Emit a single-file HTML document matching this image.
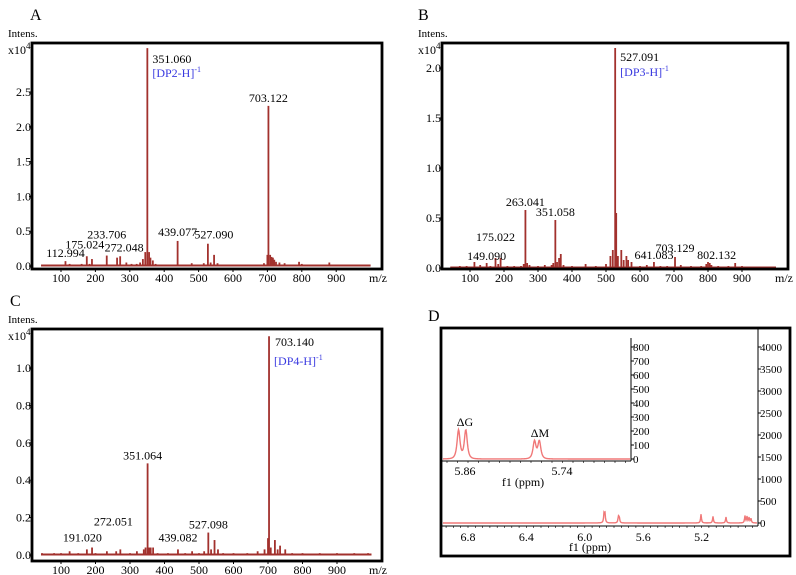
<!DOCTYPE html>
<html><head><meta charset="utf-8">
<style>
body{margin:0;background:#fff;}
svg{display:block;font-family:"Liberation Serif",serif;}
</style></head>
<body>
<svg id="fig" width="796" height="575" viewBox="0 0 796 575"></svg>
<script>
// ---------- Data ----------
const xTicksMZ = [100,200,300,400,500,600,700,800,900];
// Panel A
const aMz  = [45,60,80,100,113,125,140,150,160,175,183,190,200,215,233,245,263,272,290,305,320,330,338,345,351,356,360,367,375,390,410,439,460,480,500,515,527,535,545,555,570,600,640,670,690,700,703,708,712,716,720,725,735,750,770,792,800,820,850,880,900,940,960,990];
const aInt = [0.01,0.01,0.01,0.02,0.07,0.03,0.02,0.02,0.03,0.14,0.03,0.10,0.02,0.02,0.15,0.02,0.12,0.14,0.05,0.03,0.03,0.05,0.10,0.20,3.13,0.20,0.12,0.08,0.03,0.02,0.02,0.36,0.02,0.04,0.02,0.04,0.32,0.05,0.16,0.04,0.02,0.02,0.02,0.02,0.04,0.16,2.30,0.16,0.13,0.12,0.09,0.06,0.05,0.04,0.02,0.06,0.03,0.02,0.01,0.05,0.01,0.02,0.01,0.01];
const aYTicks = [0,0.5,1.0,1.5,2.0,2.5];
const aLabels = ["112.994","175.024","233.706","272.048","351.060","439.077","527.090","703.122"];
const aLabelMz = [113,175,233,272,351,439,527,703];
const aLabelInt = [0.07,0.14,0.15,0.14,3.13,0.36,0.32,2.30];
// Panel B
const bMz  = [45,70,90,113,130,149,160,175,183,190,210,230,250,258,263,268,275,300,320,340,345,351,356,362,367,375,400,440,470,500,513,520,527,530,535,545,552,560,565,575,600,620,641,660,680,703,720,750,780,795,800,805,810,830,860,880,900,940,990];
const bInt = [0.01,0.02,0.02,0.06,0.03,0.05,0.02,0.10,0.04,0.10,0.02,0.02,0.02,0.04,0.58,0.05,0.03,0.02,0.03,0.03,0.05,0.48,0.06,0.10,0.14,0.03,0.02,0.04,0.02,0.04,0.12,0.18,2.20,0.55,0.12,0.18,0.08,0.12,0.08,0.06,0.02,0.03,0.06,0.02,0.02,0.11,0.03,0.02,0.02,0.04,0.06,0.05,0.03,0.02,0.02,0.05,0.02,0.01,0.01];
const bYTicks = [0,0.5,1.0,1.5,2.0];
const bLabels = ["149.090","175.022","263.041","351.058","527.091","641.083","703.129","802.132"];
const bLabelMz = [149,175,263,351,527,641,703,802];
const bLabelInt = [0.05,0.10,0.58,0.48,2.20,0.06,0.11,0.06];
// Panel C
const cMz  = [45,80,100,125,150,175,190,200,233,260,272,300,320,340,345,351,356,360,367,380,410,439,460,480,500,515,527,535,545,555,570,600,640,670,690,700,703,708,720,728,735,750,770,800,850,900,950,990];
const cInt = [0.01,0.01,0.01,0.02,0.01,0.03,0.04,0.01,0.02,0.02,0.03,0.01,0.02,0.03,0.04,0.49,0.04,0.04,0.04,0.01,0.01,0.03,0.01,0.02,0.01,0.02,0.12,0.03,0.08,0.03,0.01,0.01,0.01,0.02,0.03,0.09,1.17,0.04,0.08,0.03,0.05,0.03,0.01,0.01,0.01,0.01,0.01,0.01];
const cYTicks = [0,0.2,0.4,0.6,0.8,1.0];
const cLabels = ["191.020","272.051","351.064","439.082","527.098","703.140"];
const cLabelMz = [191,272,351,439,527,703];
const cLabelInt = [0.04,0.03,0.49,0.03,0.12,1.17];
// Panel D (NMR)
const dPpm = [5.868,5.862,5.770,5.764,5.204,5.122,5.033,4.903,4.889,4.875,4.862];
const dHeight = [210,200,135,125,200,150,135,160,140,120,100];
const dYTicks = [0,500,1000,1500,2000,2500,3000,3500,4000];
const dXTicks = [6.8,6.4,6.0,5.6,5.2];
const insetPpm = [5.868,5.859,5.774,5.768];
const insetHeight = [205,205,125,125];
const insetYTicks = [0,100,200,300,400,500,600,700,800];
const insetXTicks = [5.86,5.74];

// ---------- Drawing ----------
const NS="http://www.w3.org/2000/svg";
const svg=document.getElementById('fig');
function el(tag,attrs,parent,text){const e=document.createElementNS(NS,tag);for(const k in attrs)e.setAttribute(k,attrs[k]);if(text!==undefined)e.textContent=text;(parent||svg).appendChild(e);return e;}
const RED="#a2312d";

function msPanel(o){
  const g=el('g',{});
  
  
  const sx=m=>o.x100+(m-100)*o.k;
  const sy=v=>o.y0-v*o.ky;
  let t=el('text',{x:o.letter[0],y:o.letter[1],'font-size':16},g,o.letterText);
  
  t=el('text',{x:o.fx-24,y:o.fy-6,'font-size':11},g,'Intens.');
  
  t=el('text',{x:o.fx-24,y:o.fy+11,'font-size':12},g,'x10');
  
  el('tspan',{'font-size':9,dy:-5},t,'4');
  let bl=el('line',{x1:sx(42),x2:sx(1000),y1:o.y0-0.5,y2:o.y0-0.5,stroke:RED,'stroke-width':2},g);
  
  for(let i=0;i<o.mz.length;i++){
    const p=el('line',{x1:sx(o.mz[i]),x2:sx(o.mz[i]),y1:o.y0,y2:sy(o.int[i]),stroke:RED,'stroke-width':1.8},g);
    
  }
  const fr=el('rect',{x:o.fx,y:o.fy,width:o.fw,height:o.fh,fill:'none',stroke:'#000','stroke-width':2.8},g);
  
  o.yt.forEach(v=>{
    const tk=el('line',{x1:o.fx-3,x2:o.fx,y1:sy(v),y2:sy(v),stroke:'#000'},g);
    
    const l=el('text',{x:o.fx-1,y:sy(v)+4,'font-size':12,'text-anchor':'end'},g,v.toFixed(1));
    
  });
  xTicksMZ.forEach(m=>{
    const tk=el('line',{x1:sx(m),x2:sx(m),y1:o.fy+o.fh,y2:o.fy+o.fh+3,stroke:'#000'},g);
    
    const l=el('text',{x:sx(m),y:o.fy+o.fh+13,'font-size':12,'text-anchor':'middle'},g,String(m));
    
  });
  t=el('text',{x:o.fx+o.fw-13,y:o.fy+o.fh+13,'font-size':12},g,'m/z');
  
  for(let i=0;i<o.labels.length;i++){
    const d=o.loff[i];
    const l=el('text',{x:sx(o.lmz[i])+d[0],y:sy(o.lint[i])+d[1],'font-size':12,'text-anchor':d[2]||'middle'},g,o.labels[i]);
    
  }
  const ion=el('text',{x:sx(o.ionMz)+5,y:o.ionY,'font-size':12,fill:'#3a3ae0'},g,o.ion);
  
  el('tspan',{'font-size':8,dy:-5},ion,'-1');
}

msPanel({name:'panel-a',letter:[30,20],letterText:'A',fx:32,fy:43,fw:350,fh:226,x100:61,k:0.344,y0:266,ky:69.6,yt:aYTicks,
 mz:aMz,int:aInt,labels:aLabels,lmz:aLabelMz,lint:aLabelInt,
 loff:[[0,-4],[-2,-8],[0,-17],[4,-5],[5,15,'start'],[0,-5],[6,-5],[0,-4]],ionMz:351,ionY:77,ion:'[DP2-H]'});
msPanel({name:'panel-b',letter:[418,20],letterText:'B',fx:442,fy:43,fw:346,fh:226,x100:470,k:0.34,y0:268,ky:100,yt:bYTicks,
 mz:bMz,int:bInt,labels:bLabels,lmz:bLabelMz,lint:bLabelInt,
 loff:[[0,-3],[0,-17],[0,-4],[0,-4],[5,13,'start'],[0,-3],[0,-5],[8,-3]],ionMz:527,ionY:76,ion:'[DP3-H]'});
msPanel({name:'panel-c',letter:[10,306],letterText:'C',fx:32,fy:329,fw:350,fh:232,x100:61,k:0.345,y0:555,ky:187,yt:cYTicks,
 mz:cMz,int:cInt,labels:cLabels,lmz:cLabelMz,lint:cLabelInt,
 loff:[[-10,-6],[-7,-24],[-5,-4],[0,-8],[0,-4],[6,10,'start']],ionMz:703,ionY:365,ion:'[DP4-H]'});

// Panel D
(function(){
  const g=el('g',{});
  
  const NR="#f07878";
  let t=el('text',{x:428,y:321,'font-size':16},g,'D');
  
  const sx=p=>468+(6.8-p)*146;
  const sy=v=>523-v*0.044;
  let d='';const w=0.0035;
  for(let x=443;x<=757;x+=0.5){
    const p=6.8-(x-468)/146;let v=0;
    for(let i=0;i<dPpm.length;i++){const u=(p-dPpm[i])/w;v+=dHeight[i]/(1+u*u);}
    d+=(d?'L':'M')+x.toFixed(1)+' '+sy(v).toFixed(2);
  }
  let pth=el('path',{d:d,fill:'none',stroke:NR,'stroke-width':1.4},g);
  
  let ax=el('line',{x1:441,x2:758,y1:526,y2:526,stroke:'#000'},g);
  
  for(let p=6.95;p>=4.82;p-=0.05){el('line',{x1:sx(p),x2:sx(p),y1:526,y2:528,stroke:'#000','stroke-width':0.6},g);}
  dXTicks.forEach(p=>{
    const l=el('text',{x:sx(p),y:541,'font-size':12,'text-anchor':'middle'},g,p.toFixed(1));
    
  });
  t=el('text',{x:590,y:551,'font-size':12,'text-anchor':'middle'},g,'f1 (ppm)');
  
  ax=el('line',{x1:758,x2:758,y1:328,y2:526,stroke:'#000'},g);
  
  dYTicks.forEach(v=>{
    el('line',{x1:758,x2:761,y1:sy(v),y2:sy(v),stroke:'#000'},g);
    const l=el('text',{x:760,y:sy(v)+4,'font-size':11},g,String(v));
    
  });
  const ix=p=>465+(5.86-p)*808;
  const iy=v=>459-v*0.14;
  d='';const w2=0.0028;
  for(let x=443;x<=630;x+=0.5){
    const p=5.86-(x-465)/808;let v=0;
    for(let i=0;i<insetPpm.length;i++){const u=(p-insetPpm[i])/w2;v+=insetHeight[i]/Math.pow(1+u*u,1.5);}
    d+=(d?'L':'M')+x.toFixed(1)+' '+iy(v).toFixed(2);
  }
  pth=el('path',{d:d,fill:'none',stroke:NR,'stroke-width':1.4},g);
  
  ax=el('line',{x1:441,x2:631,y1:461,y2:461,stroke:'#000'},g);
  
  for(let x=447;x<630;x+=10.5){el('line',{x1:x,x2:x,y1:461,y2:463,stroke:'#000','stroke-width':0.6},g);}
  insetXTicks.forEach(p=>{
    const l=el('text',{x:ix(p),y:475,'font-size':12,'text-anchor':'middle'},g,p.toFixed(2));
    
  });
  t=el('text',{x:523,y:486,'font-size':12,'text-anchor':'middle'},g,'f1 (ppm)');
  
  ax=el('line',{x1:631,x2:631,y1:338,y2:461,stroke:'#000'},g);
  
  insetYTicks.forEach(v=>{
    el('line',{x1:631,x2:634,y1:iy(v),y2:iy(v),stroke:'#000'},g);
    const l=el('text',{x:633,y:iy(v)+4,'font-size':11},g,String(v));
    
  });
  t=el('text',{x:465,y:426,'font-size':12,'text-anchor':'middle'},g,'ΔG');
  
  t=el('text',{x:540,y:437,'font-size':12,'text-anchor':'middle'},g,'ΔM');
  
  const fr=el('rect',{x:441,y:328,width:349,height:228,fill:'none',stroke:'#000','stroke-width':2.8},g);
  
})();
</script>
</body></html>
